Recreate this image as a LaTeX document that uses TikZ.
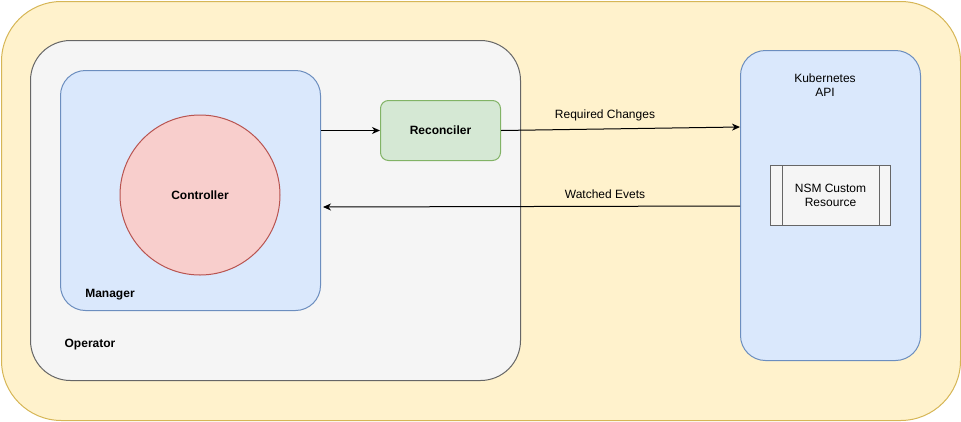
\documentclass[tikz,border=0pt]{standalone}
\usepackage{fontspec}
\setmainfont{Liberation Sans}
\usetikzlibrary{arrows.meta, positioning, calc}
\definecolor{opyellow}{HTML}{FFF2CC}
\definecolor{opyellowline}{HTML}{D6B656}
\definecolor{mgrgray}{HTML}{F5F5F5}
\definecolor{mgrgrayline}{HTML}{666666}
\definecolor{k8sblue}{HTML}{DAE8FC}
\definecolor{k8sblueline}{HTML}{6C8EBF}
\definecolor{ctrlred}{HTML}{F8CECC}
\definecolor{ctrlredline}{HTML}{B85450}
\definecolor{recgreen}{HTML}{D5E8D4}
\definecolor{recgreenline}{HTML}{82B366}
\tikzset{
  panel/.style={draw, line width=1pt, anchor=north west, inner sep=0pt},
  yellowpanel/.style={panel, fill=opyellow, draw=opyellowline, rounded corners=60pt},
  graypanel/.style={panel, fill=mgrgray, draw=mgrgrayline, rounded corners=40pt},
  bluepanel/.style={panel, fill=k8sblue, draw=k8sblueline, rounded corners=25pt},
  ctrlnode/.style={circle, draw=ctrlredline, fill=ctrlred, line width=1pt, minimum size=160pt, font=\fontsize{12}{14}\selectfont\bfseries},
  recnode/.style={panel, fill=recgreen, draw=recgreenline, rounded corners=8pt, minimum width=120pt, minimum height=60pt, font=\fontsize{12}{14}\selectfont\bfseries},
  crdnode/.style={panel, fill=mgrgray, draw=mgrgrayline, minimum width=120pt, minimum height=60pt, align=center, font=\fontsize{12}{14}\selectfont},
  lbl/.style={font=\fontsize{12}{14}\selectfont},
  boldlbl/.style={font=\fontsize{12}{14}\selectfont\bfseries},
  flow/.style={-{Stealth[length=8pt,width=7pt,inset=2.5pt]}, line width=1pt, black},
}
\begin{document}
\begin{tikzpicture}[x=1pt, y=-1pt]
  \useasboundingbox (0,0) rectangle (961,421);
  % containers
  \node[yellowpanel, minimum width=959pt, minimum height=419pt] (operatorbg) at (1,1) {};
  \node[graypanel, minimum width=490pt, minimum height=340pt] (operator) at (30,40) {};
  \node[bluepanel, minimum width=260pt, minimum height=240pt] (manager) at (60,70) {};
  \node[bluepanel, minimum width=180pt, minimum height=310pt] (kube) at (740,50) {};
  \node[boldlbl] (operatorlbl) at (90,345) {Operator};
  \node[boldlbl] (managerlbl) at (110,295) {Manager};
  \node[lbl, align=center] (kubelbl) at (825,85) {Kubernetes\\API};
  % inner parts
  \node[ctrlnode] (ctrl) at (200,195) {Controller};
  \node[recnode] (rec) at (380,100) {Reconciler};
  \node[crdnode] (crd) at (770,165) {NSM Custom\\Resource};
  \draw[mgrgrayline, line width=1pt] ($(crd.north west)+(12,0)$) -- ($(crd.south west)+(12,0)$);
  \draw[mgrgrayline, line width=1pt] ($(crd.north east)+(-12,0)$) -- ($(crd.south east)+(-12,0)$);
  % connectors
  \coordinate (mgrout) at (manager.east |- rec.west);
  \coordinate (kubein) at ($(kube.north west)+(0,77)$);
  \coordinate (kubeout) at ($(kube.north west)+(0,156)$);
  \coordinate (mgrin) at (323,207);
  \draw[flow] (mgrout) -- (rec.west);
  \draw[flow] (rec.east) -- (kubein);
  \draw[flow] (kubeout) -- (mgrin);
  \node[lbl] (reqlbl) at (605,115) {Required Changes};
  \node[lbl] (watchlbl) at (605,194) {Watched Evets};
\end{tikzpicture}
\end{document}
